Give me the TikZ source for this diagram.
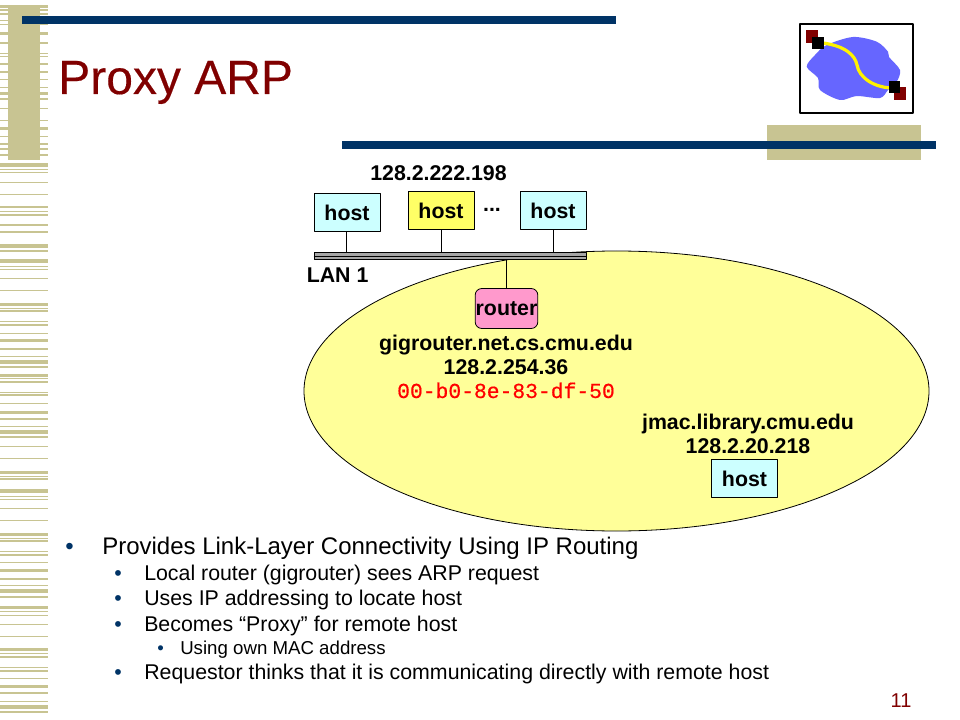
\documentclass[tikz,border=0pt]{standalone}
\usepackage{fontspec}
\setmainfont{Liberation Sans}
\newfontfamily\monoreg{Liberation Mono}[FakeBold=0.5]
\newfontfamily\titlefont{Liberation Sans}[FakeBold=0.35]
\definecolor{navy}{HTML}{003366}
\definecolor{tan}{HTML}{C8C492}
\definecolor{maroon}{HTML}{800000}
\definecolor{cloud}{HTML}{6666FF}
\definecolor{paleyellow}{HTML}{FFFF99}
\definecolor{hostyellow}{HTML}{FFFF66}
\definecolor{palecyan}{HTML}{CCFFFF}
\definecolor{pink}{HTML}{FF99CC}
\newcommand{\szA}{\fontsize{16}{18}\selectfont}
\tikzset{
 hostbox/.style={draw,line width=.6pt,minimum width=49.5pt,minimum height=28pt,inner sep=0pt,font=\szA\bfseries},
 routerbox/.style={hostbox,fill=pink,rounded corners=5pt,minimum width=47pt,minimum height=30pt},
 lanbar/.style={minimum width=204pt,minimum height=5pt,inner sep=0pt,fill=gray!70,draw=black,line width=.75pt},
 label/.style={font=\szA\bfseries,inner sep=0pt,anchor=base},
 lvlA/.style={font=\fontsize{18}{20}\selectfont,inner sep=0pt,anchor=base west},
 lvlB/.style={font=\fontsize{16}{18}\selectfont,inner sep=0pt,anchor=base west},
 lvlC/.style={font=\fontsize{14}{16}\selectfont,inner sep=0pt,anchor=base west},
 dotA/.style={lvlA,text=navy},
 dotB/.style={lvlB,text=navy},
 dotC/.style={lvlC,text=navy}
}
\begin{document}
\begin{tikzpicture}[x=.75pt,y=-.75pt,line join=round]
 \useasboundingbox (0,0) rectangle (960,720);
 % stripes down the left side
 \foreach \y/\h in {5/3.5,9.5/2,13.5/1.5,20/.7,24/.7,32/3.5,42/2,53/.7,56/1.5,63.5/1.5,71/2.5,79/1.5,87.5/1,92/3.5,98.5/2,108/.7,120/.7,127.5/2.5,136/1.5,143.5/2,148/2.5,154/2,
 163.5/3.5,169/1,172.5/1,182/.7,194/.7,206/2.5,211/.7,214/2,224/2.5,231/2,244/4,250/2,259.5/3.5,266.5/1,269/.7,278/.7,290/.7,303.5/3,308/.7,310/2,321/.7,324/2,332.5/.7,339/3,347.5/2,355.5/.7,359.5/4,366/2,373.5/3,378/.7,381/2,392/.7,394/2,403/.7,410.5/3,417.5/2,426/.7,430/4,436/2,446/.7,458/.7,471/3,475.5/.7,478/2,
 489/4,496/.7,499/1,508/.7,520/.7,533/3,538/.7,540/2,551/.7,554/2,562/.7,569/3,577.5/2,585/.7,589/4,596/2,605.5/3.5,611/.7,615/.7,624/.7,636/.7,648/3,653/.7,656/2,667/.7,669.5/2,678/.7,685/3,692/2,701/.7,705/4,711/2}
  \fill[tan] (0,\y) rectangle (48,{\y+\h});
 \fill[tan] (8,5) rectangle (40,160);
 \fill[tan] (767,125) rectangle (921,160);
 \fill[navy] (22,16) rectangle (616,24);
 \fill[navy] (342,141) rectangle (936,149);
 \node[font=\fontsize{36}{40}\selectfont\titlefont,text=maroon,inner sep=0pt,anchor=base west] (title) at (58,94) {Proxy ARP};
 % logo
 \fill[white] (800,24) rectangle (913,113);
 \fill[cloud] plot[smooth cycle] coordinates {(826.7,45) (853,37) (876.7,41.7) (888,51.7) (889,57) (900,70) (896.7,81.7) (888,90) (880,98) (856.7,96) (840,100) (820,90) (818,78) (806.7,66.7) (815,55)};
 \draw[yellow,line width=2.4pt] (823,43) .. controls (845,46) and (855,55) .. (857,65) .. controls (859,78) and (875,88) .. (893,88);
 \fill[maroon] (806,30) rectangle (818,42.7);
 \fill[black] (812,36.7) rectangle (824,48.7);
 \fill[maroon] (894,87) rectangle (906,100);
 \fill[black] (889,81) rectangle (900,92.7);
 \draw[line width=2pt] (800,24) rectangle (913,113);
 % network
 \draw[fill=paleyellow,line width=.6pt] (616.5,391) ellipse (312.5 and 140);
 \node[lanbar] (lan) at (450,256.3) {};
 \draw[line width=.75pt] (lan.west) -- (lan.east);
 \node[hostbox,fill=palecyan] (hostA) at (347,212.5) {host};
 \node[hostbox,fill=hostyellow] (hostB) at (441,210.5) {host};
 \node[hostbox,fill=palecyan] (hostC) at (553,210.5) {host};
 \node[routerbox] (router) at (506.5,308.5) {router};
 \node[hostbox,fill=palecyan] (hostD) at (744.5,478.5) {host};
 \draw[line width=.6pt] ([xshift=-.5pt]hostA.south) -- ([xshift=-.5pt]hostA.south |- lan.north);
 \draw[line width=.6pt] ([xshift=.6pt]hostB.south) -- ([xshift=.6pt]hostB.south |- lan.north);
 \draw[line width=.6pt] ([xshift=.6pt]hostC.south) -- ([xshift=.6pt]hostC.south |- lan.north);
 \draw[line width=.6pt] (router) -- (router |- lan.south);
 \node[label] (addr) at (438.5,181) {128.2.222.198};
 \node[label] (dots) at (492,212) {...};
 \node[label,anchor=base west] (lanname) at (306.5,282) {LAN 1};
 \node[label] (gig) at (506,350) {gigrouter.net.cs.cmu.edu};
 \node[label] (gigip) at (506,374) {128.2.254.36};
 \node[label,text=red,font=\szA\monoreg] (gigmac) at (506,398) {00-b0-8e-83-df-50};
 \node[label] (jmac) at (748,429) {jmac.library.cmu.edu};
 \node[label] (jmacip) at (748,453) {128.2.20.218};
 % bullet text
 \node[dotA] (bA) at (65,554) {•};
 \node[lvlA] (tA) at (102,554) {Provides Link-Layer Connectivity Using IP Routing};
 \node[dotB] (bB) at (114,580) {•};
 \node[lvlB] (tB) at (144,580) {Local router (gigrouter) sees ARP request};
 \node[dotB] (bC) at (114,605) {•};
 \node[lvlB] (tC) at (144,605) {Uses IP addressing to locate host};
 \node[dotB] (bD) at (114,631) {•};
 \node[lvlB] (tD) at (144,631) {Becomes “Proxy” for remote host};
 \node[dotC] (bE) at (157,654) {•};
 \node[lvlC] (tE) at (180,654) {Using own MAC address};
 \node[dotB] (bF) at (114,679) {•};
 \node[lvlB] (tF) at (144,679) {Requestor thinks that it is communicating directly with remote host};
 \node[inner sep=0pt,text=maroon,font=\fontsize{15}{17}\selectfont,anchor=base] (pagenum) at (901,707) {11};
\end{tikzpicture}
\end{document}
